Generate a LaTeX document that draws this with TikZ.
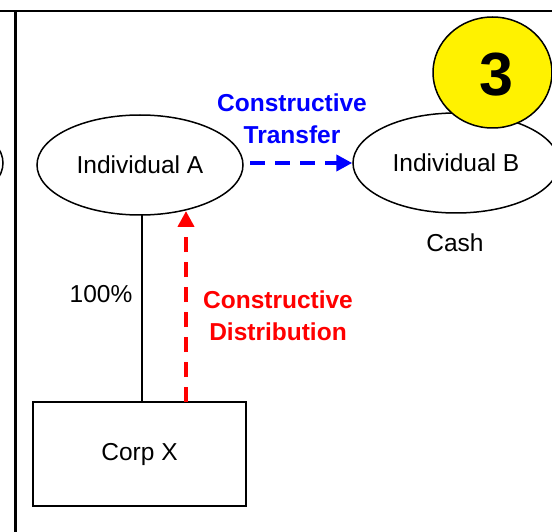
\documentclass[tikz,border=0pt]{standalone}
\usepackage{fontspec}
\setmainfont{Liberation Sans}
\usetikzlibrary{arrows.meta,shapes.geometric}
\begin{document}
\begin{tikzpicture}[x=1pt,y=-1pt,
  lbl/.style={font=\fontsize{24.5}{32}\selectfont, inner sep=0pt},
  ent/.style={draw=black, line width=1.5pt, ellipse, minimum width=206pt, minimum height=100pt, inner sep=0pt, font=\fontsize{24.5}{32}\selectfont},
  boxnode/.style={draw=black, line width=1.5pt, rectangle, minimum width=213pt, minimum height=104pt, inner sep=0pt, font=\fontsize{24.5}{32}\selectfont},
  dasharrow/.style={line width=4pt, dash pattern=on 15pt off 10pt, -{Triangle[length=16pt,width=16pt]}},
  frame/.style={line width=2.8pt, black}
]
\useasboundingbox (0,0) rectangle (552,532);
\clip (0,0) rectangle (552,532);
% frame lines
\draw[frame] (0,11) -- (552,11);
\draw[frame] (15.5,11) -- (15.5,532);
% partial ellipse from neighbouring panel
\draw[line width=1.5pt] (-100,163) ellipse [x radius=103, y radius=50];
% nodes
\node[ent] (A) at (140,165) {Individual A};
\node[ent] (B) at (456,163) {Individual B};
\node[draw=black, line width=1.5pt, fill=yellow, ellipse, minimum width=119pt, minimum height=111pt, inner sep=0pt] (three) at (492.5,72.5) {};
\node[inner sep=0pt, font=\fontsize{61}{61}\selectfont\bfseries] (num) at (496,75) {3};
\node[boxnode] (X) at (139.5,454) {Corp X};
\node[lbl] (cash) at (455,243) {Cash};
\node[lbl] (pct) at (101,294) {100\%};
\node[lbl, text=blue, font=\fontsize{24.5}{32}\selectfont\bfseries, align=center] (ct) at (292,119) {Constructive\\Transfer};
\node[lbl, text=red, font=\fontsize{24.5}{32}\selectfont\bfseries, align=center] (cd) at (278,316) {Constructive\\Distribution};
% connectors
\coordinate (atop) at (142,215);
\draw[line width=1.5pt] (atop) -- (atop |- X.north);
\coordinate (rs) at (186,402);
\coordinate (re) at (186,211);
\draw[dasharrow, red] (rs) -- (re);
\coordinate (bs) at (250,163);
\draw[dasharrow, blue] (bs) -- (B.west);
\end{tikzpicture}
\end{document}
